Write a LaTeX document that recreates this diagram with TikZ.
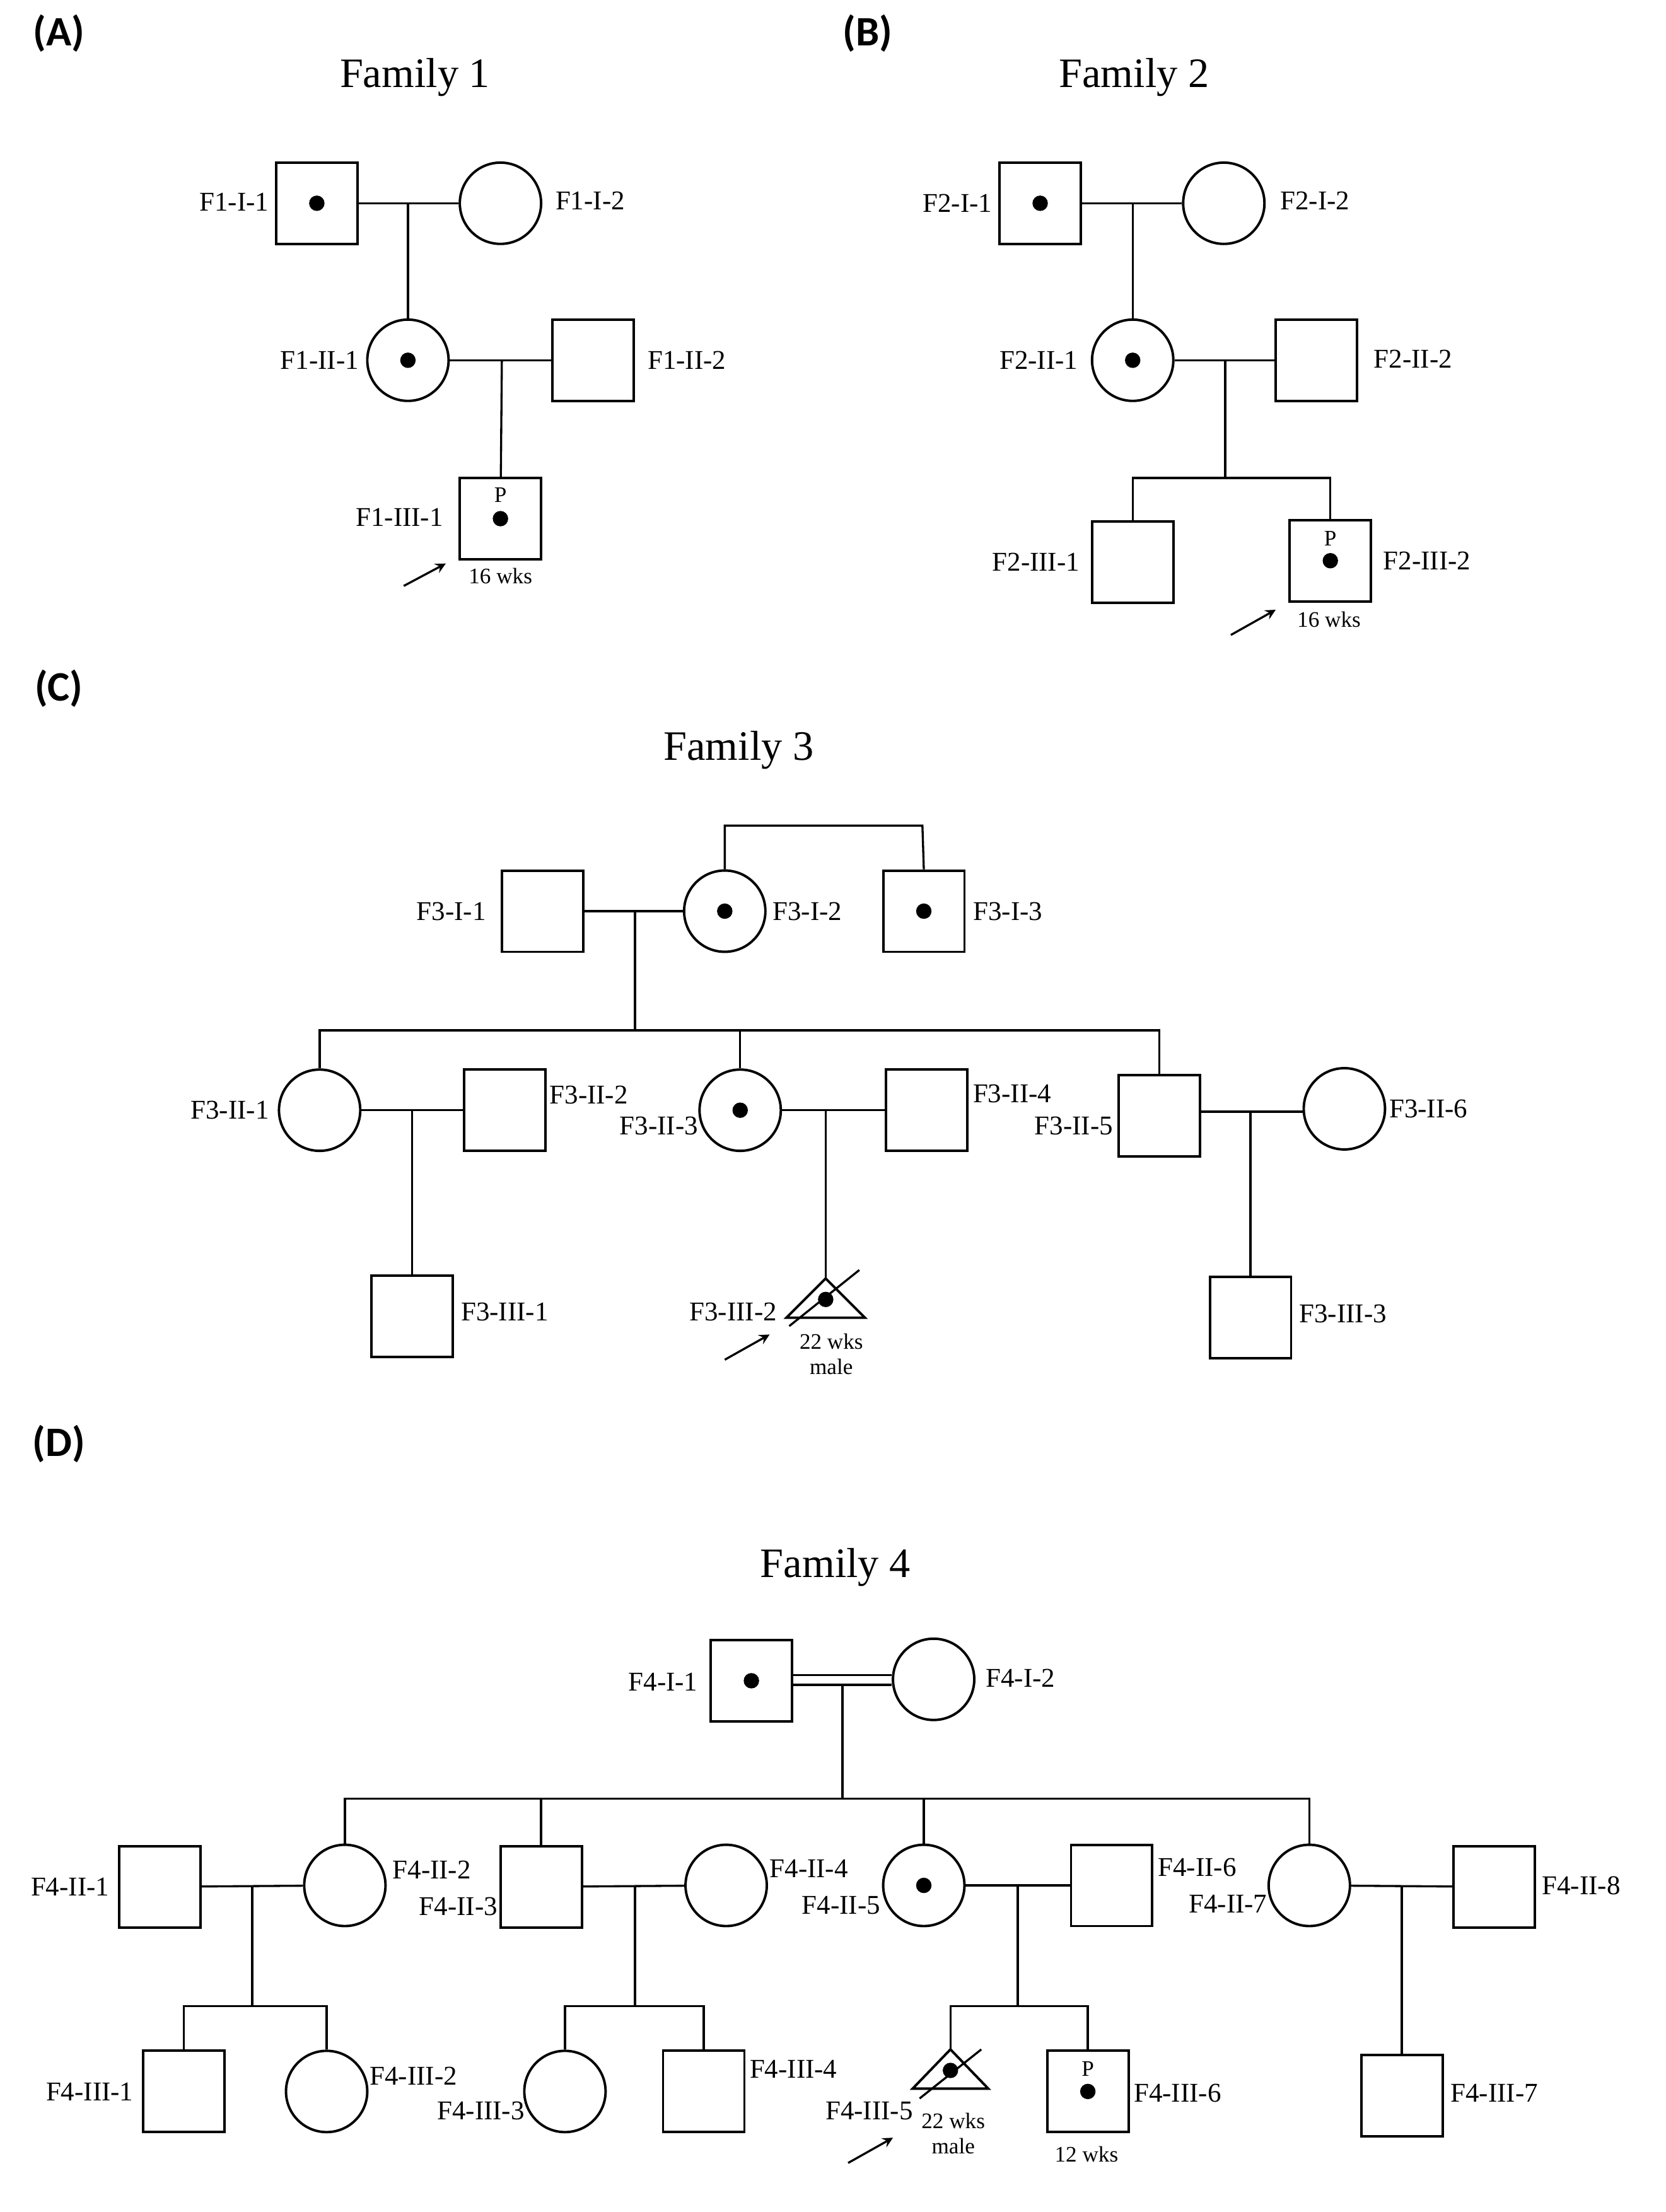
\documentclass[tikz,border=0pt]{standalone}
\usepackage{fontspec}
\setmainfont{Liberation Serif}
\newfontfamily\hd{Carlito}
\usetikzlibrary{calc}
\begin{document}
\begin{tikzpicture}[x=0.02cm,y=-0.02cm,
  ind/.style={draw,line width=1pt,inner sep=0pt,minimum size=1.16cm},
  M/.style={ind,rectangle},
  F/.style={ind,circle},
  lbl/.style={font=\fontsize{11}{13}\selectfont,inner sep=0pt},
  sm/.style={font=\fontsize{9}{10}\selectfont,inner sep=0pt},
  ttl/.style={font=\fontsize{17}{20}\selectfont},
  pan/.style={font=\hd\bfseries\fontsize{17}{20}\selectfont},
  every path/.style={line width=0.85pt}]
\useasboundingbox (0,0) rectangle (1188,1578);
\newcommand{\dotat}[1]{\fill (#1) circle (0.11cm);}
\newcommand{\arr}[2]{\draw[->,>=stealth] (#1) -- (#2);}
% ===== Family 1
\node[pan] (pa) at (42,24) {(A)};
\node[ttl] (t1) at (296,55) {Family 1};
\node[M] (f1i1) at (226,145) {}; \dotat{f1i1}
\node[F] (f1i2) at (357,145) {};
\node[F] (f1ii1) at (291,257) {}; \dotat{f1ii1}
\node[M] (f1ii2) at (423,257) {};
\node[M] (f1iii1) at (357,370) {}; \dotat{f1iii1}
\node[sm] (p1) at (357,353) {P};
\draw (f1i1) -- (f1i2); \draw (291,145) -- (f1ii1);
\draw (f1ii1) -- (f1ii2); \draw (358,257) -- (f1iii1);
\node[lbl] at (167,144) {F1-I-1}; \node[lbl] at (421,143) {F1-I-2};
\node[lbl] at (228,257) {F1-II-1}; \node[lbl] at (490,257) {F1-II-2};
\node[lbl] at (285,369) {F1-III-1};
\node[sm] at (357,411) {16 wks};
\coordinate (a1s) at (288,418); \coordinate (a1e) at (318,402); \arr{a1s}{a1e}
% ===== Family 2
\node[pan] (pb) at (619,24) {(B)};
\node[ttl] (t2) at (809,55) {Family 2};
\node[M] (f2i1) at (742,145) {}; \dotat{f2i1}
\node[F] (f2i2) at (873,145) {};
\node[F] (f2ii1) at (808,257) {}; \dotat{f2ii1}
\node[M] (f2ii2) at (939,257) {};
\node[M] (f2iii1) at (808,401) {};
\node[M] (f2iii2) at (949,400) {}; \dotat{f2iii2}
\node[sm] at (949,384) {P};
\draw (f2i1) -- (f2i2); \draw (808,145) -- (f2ii1);
\draw (f2ii1) -- (f2ii2); \draw (874,257) -- (874,341);
\draw (f2iii1.north) -- (808,341) -- (949,341) -- (f2iii2.north);
\node[lbl] at (683,145) {F2-I-1}; \node[lbl] at (938,143) {F2-I-2};
\node[lbl] at (741,257) {F2-II-1}; \node[lbl] at (1008,256) {F2-II-2};
\node[lbl] at (739,401) {F2-III-1}; \node[lbl] at (1018,400) {F2-III-2};
\node[sm] at (948,442) {16 wks};
\coordinate (a2s) at (878,453); \coordinate (a2e) at (910,435); \arr{a2s}{a2e}
% ===== Family 3
\node[pan] (pc) at (42,491) {(C)};
\node[ttl] (t3) at (527,535) {Family 3};
\node[M] (f3i1) at (387,650) {};
\node[F] (f3i2) at (517,650) {}; \dotat{f3i2}
\node[M] (f3i3) at (659,650) {}; \dotat{f3i3}
\draw (f3i2.north) -- (517,589) -- (658,589) -- (f3i3.north);
\draw (f3i1) -- (f3i2); \draw (453,650) -- (453,735);
\node[F] (f3ii1) at (228,792) {};
\node[M] (f3ii2) at (360,792) {};
\node[F] (f3ii3) at (528,792) {}; \dotat{f3ii3}
\node[M] (f3ii4) at (661,792) {};
\node[M] (f3ii5) at (827,796) {};
\node[F] (f3ii6) at (959,791) {};
\draw (f3ii1.north) -- (228,735) -- (827,735) -- (f3ii5.north);
\draw (528,735) -- (f3ii3.north);
\draw (f3ii1) -- (f3ii2); \draw (f3ii3) -- (f3ii4);
\draw (f3ii5.east |- 0,793) -- (f3ii6.west |- 0,793);
\node[M] (f3iii1) at (294,939) {};
\draw (294,792) -- (f3iii1);
\coordinate (t3a) at (589,912);
\draw[line width=1pt] (t3a) -- (617,940) -- (561,940) -- cycle;
\fill (589,927) circle (0.11cm);
\draw (563,946) -- (613,906);
\draw (589,792) -- (t3a);
\node[M] (f3iii3) at (892,940) {};
\draw (892,793) -- (f3iii3);
\node[lbl] at (322,650) {F3-I-1}; \node[lbl] at (576,650) {F3-I-2};
\node[lbl] at (719,650) {F3-I-3}; \node[lbl] at (164,792) {F3-II-1};
\node[lbl] at (420,781) {F3-II-2}; \node[lbl] at (470,803) {F3-II-3};
\node[lbl] at (722,780) {F3-II-4}; \node[lbl] at (766,803) {F3-II-5};
\node[lbl] at (1019,791) {F3-II-6}; \node[lbl] at (360,936) {F3-III-1};
\node[lbl] at (523,936) {F3-III-2}; \node[lbl] at (958,937) {F3-III-3};
\node[sm] at (593,957) {22 wks}; \node[sm] at (593,975) {male};
\coordinate (a3s) at (517,970); \coordinate (a3e) at (549,952); \arr{a3s}{a3e}
% ===== Family 4
\node[pan] (pd) at (42,1030) {(D)};
\node[ttl] (t4) at (596,1118) {Family 4};
\node[M] (f4i1) at (536,1199) {}; \dotat{f4i1}
\node[F] (f4i2) at (666,1198) {};
\draw (f4i1.east |- 0,1195) -- (f4i2.west |- 0,1195);
\draw (f4i1.east |- 0,1202) -- (f4i2.west |- 0,1202);
\draw (601,1202) -- (601,1283);
\node[M] (f4ii1) at (114,1346) {};
\node[F] (f4ii2) at (246,1345) {};
\node[M] (f4ii3) at (386,1346) {};
\node[F] (f4ii4) at (518,1345) {};
\node[F] (f4ii5) at (659,1345) {}; \dotat{f4ii5}
\node[M] (f4ii6) at (793,1345) {};
\node[F] (f4ii7) at (934,1345) {};
\node[M] (f4ii8) at (1066,1346) {};
\draw (f4ii2.north) -- (246,1283) -- (934,1283) -- (f4ii7.north);
\draw (386,1283) -- (f4ii3.north); \draw (659,1283) -- (f4ii5.north);
\draw (f4ii1) -- (f4ii2); \draw (f4ii3) -- (f4ii4);
\draw (f4ii5) -- (f4ii6); \draw (f4ii7) -- (f4ii8);
\node[M] (f4iii1) at (131,1492) {};
\node[F] (f4iii2) at (233,1492) {};
\node[F] (f4iii3) at (403,1492) {};
\node[M] (f4iii4) at (502,1492) {};
\node[M] (f4iii6) at (776,1492) {}; \dotat{f4iii6}
\node[sm] at (776,1476) {P};
\node[M] (f4iii7) at (1000,1495) {};
\draw (180,1346) -- (180,1431);
\draw (f4iii1.north) -- (131,1431) -- (233,1431) -- (f4iii2.north);
\draw (453,1346) -- (453,1431);
\draw (f4iii3.north) -- (403,1431) -- (502,1431) -- (f4iii4.north);
\draw (726,1346) -- (726,1431);
\coordinate (t4a) at (678,1462);
\draw (t4a) -- (678,1431) -- (776,1431) -- (f4iii6.north);
\draw[line width=1pt] (t4a) -- (705,1490) -- (651,1490) -- cycle;
\fill (678,1477) circle (0.11cm);
\draw (656,1497) -- (700,1462);
\draw (1000,1346) -- (f4iii7);
\node[lbl] at (473,1200) {F4-I-1}; \node[lbl] at (728,1197) {F4-I-2};
\node[lbl] at (50,1346) {F4-II-1}; \node[lbl] at (308,1334) {F4-II-2};
\node[lbl] at (327,1360) {F4-II-3}; \node[lbl] at (577,1333) {F4-II-4};
\node[lbl] at (600,1359) {F4-II-5}; \node[lbl] at (854,1332) {F4-II-6};
\node[lbl] at (876,1358) {F4-II-7}; \node[lbl] at (1128,1345) {F4-II-8};
\node[lbl] at (64,1492) {F4-III-1}; \node[lbl] at (295,1481) {F4-III-2};
\node[lbl] at (343,1506) {F4-III-3}; \node[lbl] at (566,1476) {F4-III-4};
\node[lbl] at (620,1506) {F4-III-5}; \node[lbl] at (840,1493) {F4-III-6};
\node[lbl] at (1066,1493) {F4-III-7};
\node[sm] at (680,1513) {22 wks}; \node[sm] at (680,1531) {male};
\node[sm] at (775,1537) {12 wks};
\coordinate (a4s) at (605,1543); \coordinate (a4e) at (637,1525); \arr{a4s}{a4e}
\end{tikzpicture}
\end{document}
